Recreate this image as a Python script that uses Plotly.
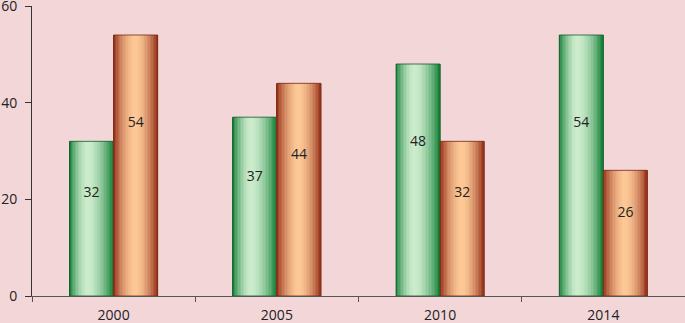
import plotly.graph_objects as go

years = ["2000", "2005", "2010", "2014"]
series_a = [32, 37, 48, 54]
series_b = [54, 44, 32, 26]
y_ticks = [0, 20, 40, 60]

BG = "#f2d6d8"
BAR_W = 0.27
N = 30
LABEL_FRAC = 0.66

green_edge = (10, 122, 48)
green_light = (204, 236, 204)
orange_edge = (145, 42, 20)
orange_light = (253, 200, 150)

xpos = list(range(len(years)))


def shade(edge, light, t, c):
    if t < c:
        u = (c - t) / c
    else:
        u = (t - c) / (1 - c)
    f = max(0.0, 1 - u ** 1.7)
    f = f ** 0.9
    r, g, b = (int(round(e + (l - e) * f)) for e, l in zip(edge, light))
    return f"rgb({r},{g},{b})"


fig = go.Figure()


def add_series(vals, start, edge, light, outline, c):
    sw = BAR_W / N
    for i in range(N):
        t = (i + 0.5) / N
        fig.add_trace(go.Bar(
            x=xpos, y=vals, width=sw * 1.2, offset=start + i * sw,
            marker=dict(color=shade(edge, light, t, c), line=dict(width=0)),
            hoverinfo="skip", showlegend=False))
    fig.add_trace(go.Bar(
        x=xpos, y=vals, width=BAR_W, offset=start,
        marker=dict(color="rgba(0,0,0,0)", line=dict(width=1, color=outline)),
        showlegend=False))
    fig.add_trace(go.Scatter(
        x=[p + start + BAR_W / 2 for p in xpos],
        y=[v * LABEL_FRAC for v in vals],
        mode="text", text=[str(v) for v in vals],
        textfont=dict(family="Open Sans", size=14, color="#222222"),
        showlegend=False, hoverinfo="skip"))


add_series(series_a, -BAR_W, green_edge, green_light, "rgba(20,90,40,0.8)", 0.42)
add_series(series_b, 0.0, orange_edge, orange_light, "rgba(120,40,20,0.8)", 0.5)

fig.update_layout(
    barmode="overlay",
    width=685, height=323,
    margin=dict(l=32, r=0, t=6, b=27),
    paper_bgcolor=BG, plot_bgcolor=BG,
    font=dict(family="Open Sans", size=14, color="#222222"),
    showlegend=False,
)
fig.update_xaxes(tickvals=xpos, ticktext=years, ticks="", showline=True,
                 linecolor="#555555", linewidth=1, showgrid=False,
                 zeroline=False, range=[-0.5, 3.5], automargin=False,
                 ticklabelstandoff=6,
                 minor=dict(tickvals=[p - 0.5 for p in xpos] + [xpos[-1] + 0.5],
                            ticks="outside", ticklen=5, tickcolor="#555555",
                            showgrid=False))
fig.update_yaxes(range=[0, 60], tickvals=y_ticks, ticks="outside", ticklen=6,
                 tickcolor="#333333", showline=True, linecolor="#333333",
                 linewidth=1, showgrid=False, zeroline=False, automargin=False,
                 ticklabeloverflow="allow", ticklabelstandoff=5)

fig.write_html("out.html", config={"displayModeBar": False},
               post_script="document.body.style.margin='0';"
                           "document.body.style.overflow='hidden';")
